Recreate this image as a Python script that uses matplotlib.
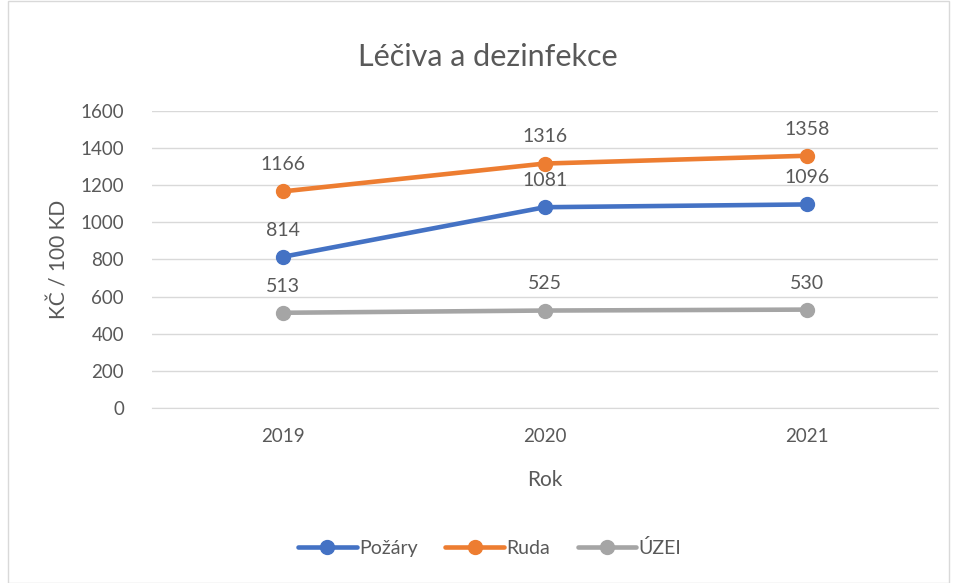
import matplotlib.pyplot as plt
from matplotlib.patches import Rectangle

years = ["2019", "2020", "2021"]
pozary = [814, 1081, 1096]
ruda = [1166, 1316, 1358]
uzei = [513, 525, 530]
series_names = ["Požáry", "Ruda", "ÚZEI"]
colors = ["#4472C4", "#ED7D31", "#A5A5A5"]

plt.rcParams['font.family'] = ['Lato', 'DejaVu Sans']
txt = '#595959'

fig = plt.figure(figsize=(9.55, 5.83), dpi=100)
fig.patches.append(Rectangle((0.008, 0.0), 0.986, 0.998, transform=fig.transFigure,
                             fill=False, edgecolor='#D9D9D9', linewidth=1))
ax = fig.add_axes([0.159, 0.300, 0.823, 0.510])

x = range(len(years))
for name, vals, c in zip(series_names, [pozary, ruda, uzei], colors):
    ax.plot(x, vals, color=c, linewidth=3.3, marker='o', markersize=10,
            label=name, solid_capstyle='round', zorder=3)
    for xi, v in zip(x, vals):
        ax.annotate(str(v), (xi, v), xytext=(0, 13), textcoords='offset points',
                    ha='center', va='bottom', fontsize=14, color=txt)

ax.set_xlim(-0.5, 2.5)
ax.set_ylim(0, 1600)
ax.set_yticks(range(0, 1601, 200))
ax.set_xticks(list(x))
ax.set_xticklabels(years)
ax.grid(axis='y', color='#D9D9D9', linewidth=1)
ax.set_axisbelow(True)
for s in ['top', 'right', 'left']:
    ax.spines[s].set_visible(False)
ax.spines['bottom'].set_color('#D9D9D9')
ax.tick_params(length=0, labelsize=13.5, colors=txt)
ax.tick_params(axis='y', pad=20)
ax.tick_params(axis='x', pad=14)

ax.set_xlabel("Rok", fontsize=15, color=txt, labelpad=18)
ax.set_ylabel("KČ / 100 KD", fontsize=15, color=txt, labelpad=8)
fig.text(0.511, 0.902, "Léčiva a dezinfekce", ha='center', va='center', fontsize=22, color=txt)

fig.legend(loc='center', bbox_to_anchor=(0.513, 0.06), ncol=3, frameon=False,
           fontsize=14, labelcolor=txt, handlelength=3.0, columnspacing=1.4, handletextpad=0.15)

fig.savefig("out.png", dpi=100)
